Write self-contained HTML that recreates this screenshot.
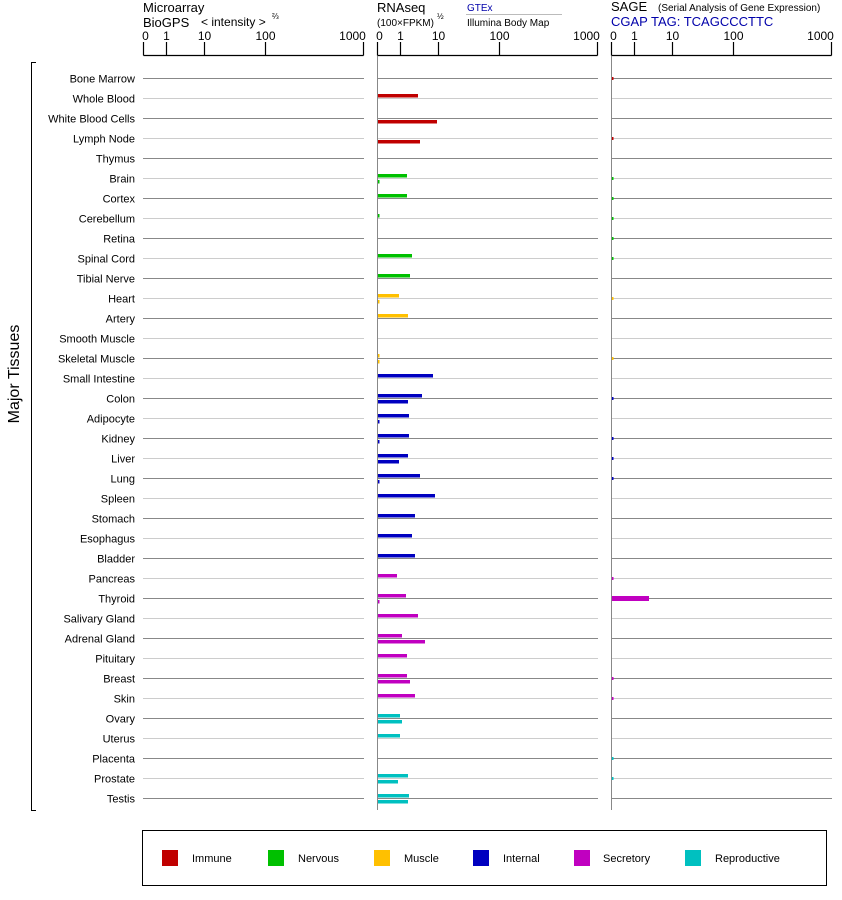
<!DOCTYPE html>
<html><head><meta charset="utf-8"><style>
html,body{margin:0;padding:0;background:#fff;}
svg{display:block;font-family:"Liberation Sans",sans-serif;}
</style></head><body>
<svg id="s" width="842" height="900" xmlns="http://www.w3.org/2000/svg">
<g font-size="13" fill="#000">
<text x="143" y="12">Microarray</text>
<text x="143" y="27">BioGPS</text>
<text x="201" y="26" font-size="12">&lt; intensity &gt;</text>
<text x="272" y="19" font-size="8">⅔</text>
<text x="377" y="12">RNAseq</text>
<text x="377" y="26" font-size="10">(100×FPKM)</text>
<text x="437" y="19" font-size="8">½</text>
<text x="467" y="11" font-size="10" fill="#0000aa">GTEx</text>
<line x1="466" y1="14.5" x2="562" y2="14.5" stroke="#bbb"/>
<text x="467" y="26" font-size="10">Illumina Body Map</text>
<text x="611" y="11">SAGE</text>
<text x="658" y="11" font-size="10">(Serial Analysis of Gene Expression)</text>
<text x="611" y="26" fill="#0000aa">CGAP TAG: TCAGCCCTTC</text>
</g>
<g id="ax" stroke="#000" stroke-width="1.2" fill="none"></g>
<g id="ticktext" font-size="12" fill="#000" text-anchor="middle"></g>
<g id="grid"></g>
<g id="bars"></g>
<g id="labels" font-size="11" fill="#000" text-anchor="end"></g>
<path d="M36 62.5H31.5V810.5H36" stroke="#000" fill="none"/>
<text transform="translate(19,374) rotate(-90)" font-size="16" text-anchor="middle">Major Tissues</text>
<rect x="142.5" y="830.5" width="684" height="55" fill="none" stroke="#000"/>
<g font-size="11">
<rect x="162" y="850" width="16" height="16" fill="#c00000"/><text x="192" y="862">Immune</text>
<rect x="268" y="850" width="16" height="16" fill="#00c000"/><text x="298" y="862">Nervous</text>
<rect x="374" y="850" width="16" height="16" fill="#ffc000"/><text x="404" y="862">Muscle</text>
<rect x="473" y="850" width="16" height="16" fill="#0000c0"/><text x="503" y="862">Internal</text>
<rect x="574" y="850" width="16" height="16" fill="#c000c0"/><text x="603" y="862">Secretory</text>
<rect x="685" y="850" width="16" height="16" fill="#00c0c0"/><text x="715" y="862">Reproductive</text>
</g>
</svg>
<script>
const NS="http://www.w3.org/2000/svg";
function el(p,t,a,txt){const e=document.createElementNS(NS,t);for(const k in a)e.setAttribute(k,a[k]);if(txt!=null)e.textContent=txt;document.getElementById(p).appendChild(e);return e;}
const panels=[143.5,377.5,611.5];const offs=[0,23,61,122,220];const lab=["0","1","10","100","1000"];
panels.forEach(x0=>{
 el("ax","line",{x1:x0,y1:55.5,x2:x0+220,y2:55.5});
 offs.forEach((o,i)=>{el("ax","line",{x1:x0+o,y1:42,x2:x0+o,y2:55.5});
  let tx=x0+o; if(i==0)tx+=2; if(i==4)tx-=11;
  el("ticktext","text",{x:tx,y:40},lab[i]);});
});
const names=["Bone Marrow","Whole Blood","White Blood Cells","Lymph Node","Thymus","Brain","Cortex","Cerebellum","Retina","Spinal Cord","Tibial Nerve","Heart","Artery","Smooth Muscle","Skeletal Muscle","Small Intestine","Colon","Adipocyte","Kidney","Liver","Lung","Spleen","Stomach","Esophagus","Bladder","Pancreas","Thyroid","Salivary Gland","Adrenal Gland","Pituitary","Breast","Skin","Ovary","Uterus","Placenta","Prostate","Testis"];
const C={I:"#c00000",N:"#00c000",M:"#ffc000",T:"#0000c0",S:"#c000c0",R:"#00c0c0"};
const cat="IIIIINNNNNNMMMMTTTTTTTTTTSSSSSSSRRRRR";
names.forEach((n,i)=>{const y=78+20*i+0.5;const col=i%2==0?"#888":"#ccc";
 el("labels","text",{x:135,y:y+4},n);
 [[143,364],[377,598],[611,832]].forEach(([a,b])=>el("grid","line",{x1:a,y1:y,x2:b,y2:y,stroke:col}));
});
el("grid","line",{x1:377.5,y1:56,x2:377.5,y2:810,stroke:"#888"});
el("grid","line",{x1:611.5,y1:56,x2:611.5,y2:810,stroke:"#888"});
// [row, gtex width, illumina width]
const d=[[1,40,0],[2,0,59],[3,0,42],[5,29,1.5],[6,29,0],[7,1.5,0],[9,34,0],[10,32,0],[11,21,1.5],[12,30,0],[14,1.5,1.5],[15,55,0],[16,44,30],[17,31,1.5],[18,31,1.5],[19,30,21],[20,42,1.5],[21,57,0],[22,37,0],[23,34,0],[24,37,0],[25,19,0],[26,28,1.5],[27,40,0],[28,24,47],[29,29,0],[30,29,32],[31,37,0],[32,22,24],[33,22,0],[35,30,20],[36,31,30]];
d.forEach(([r,g,il])=>{const y=78+20*r;const c=C[cat[r]];
 if(g)el("bars","rect",{x:378,y:y-4,width:g,height:3.5,fill:c});
 if(il)el("bars","rect",{x:378,y:y+2,width:il,height:3.5,fill:c});
});
[0,3,5,6,7,8,9,11,14,16,18,19,20,25,30,31,34,35].forEach(r=>{const y=78+20*r;
 el("bars","rect",{x:612,y:y-1,width:1.5,height:3,fill:C[cat[r]]});});
el("bars","rect",{x:612,y:596,width:37,height:5,fill:C.S});
</script>
</body></html>
